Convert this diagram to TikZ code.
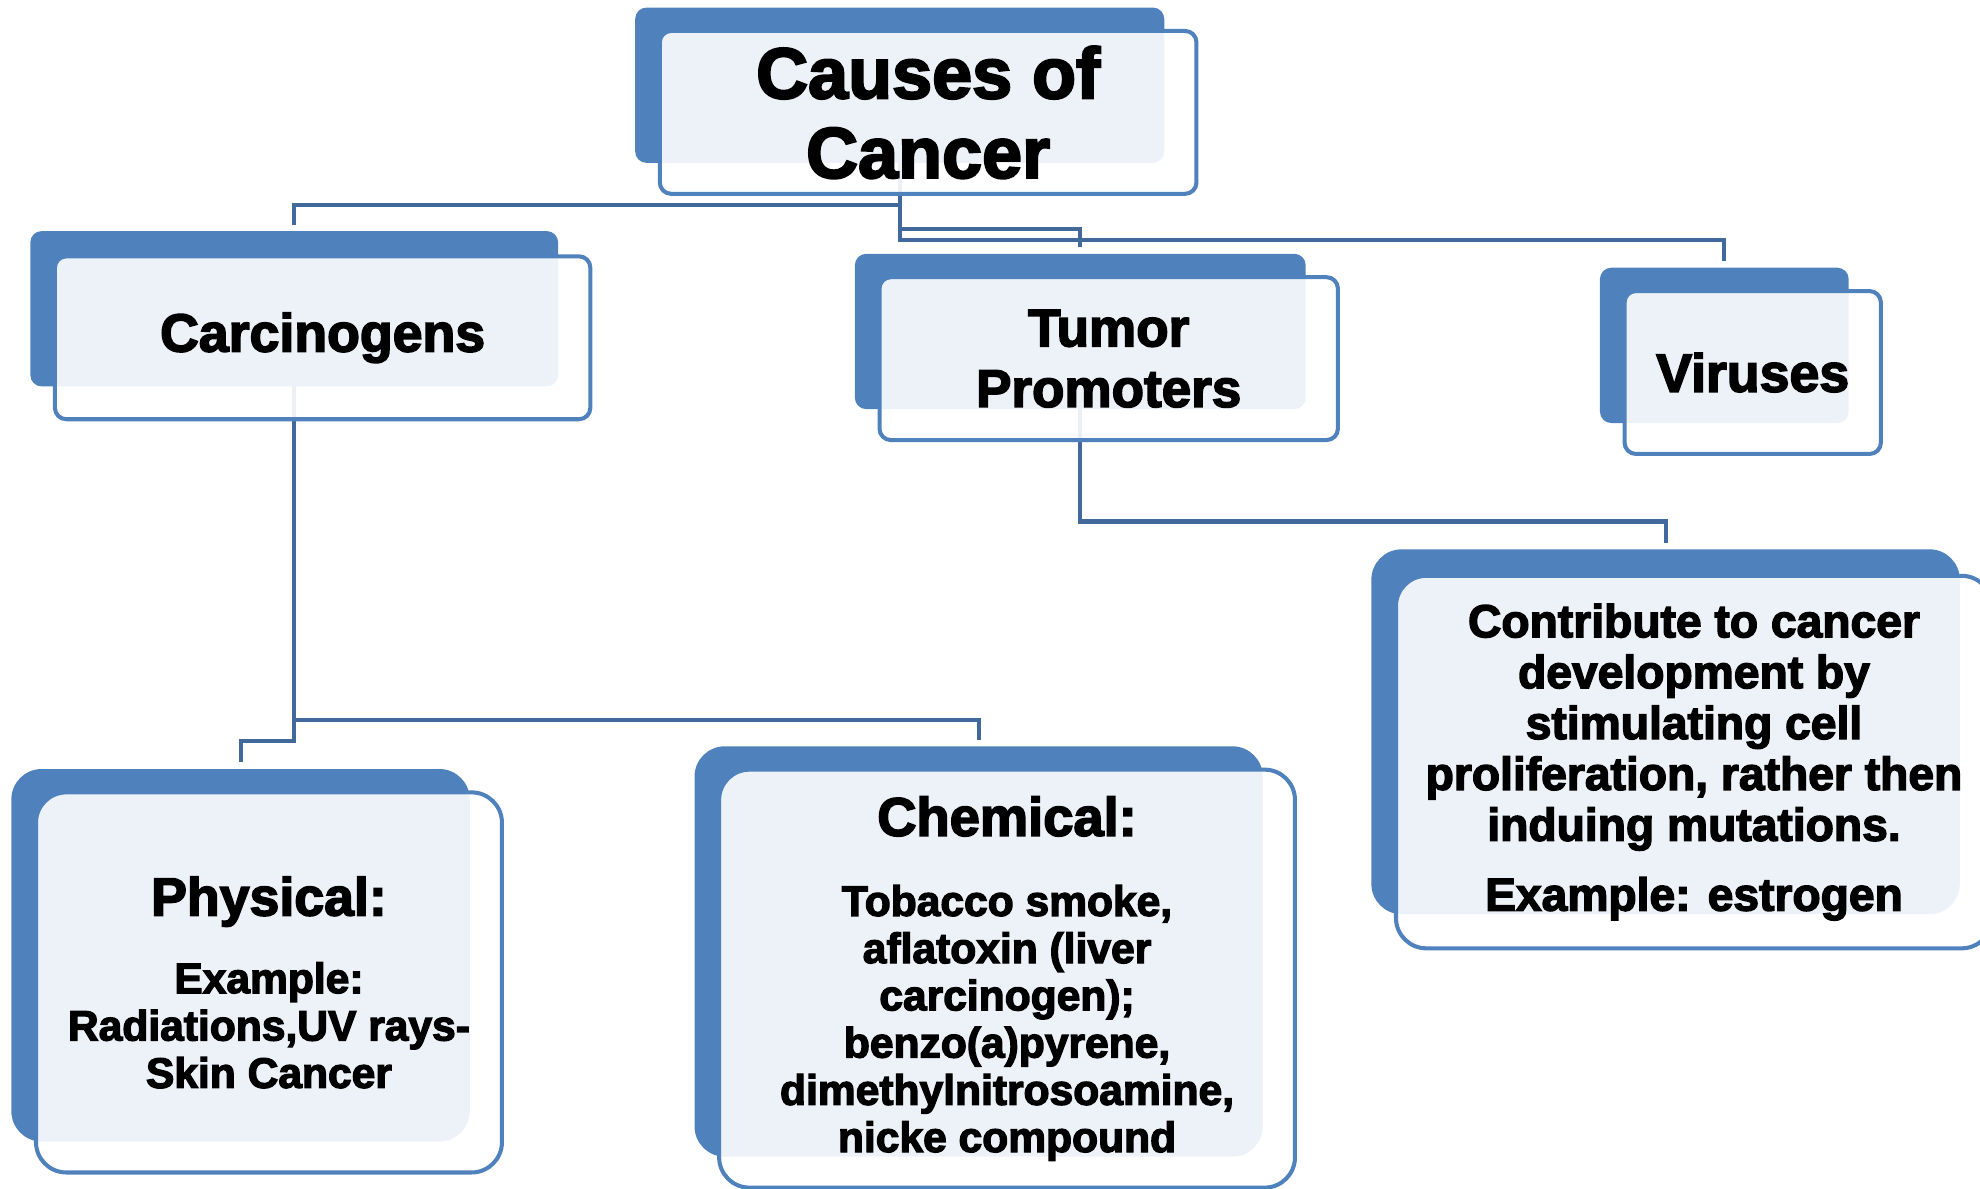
\documentclass[tikz,border=0pt]{standalone}
\usepackage{fontspec}
\setmainfont{Liberation Sans}
\newfontfamily\heavy{Liberation Sans Bold}[FakeBold=3]
\usetikzlibrary{calc,backgrounds}
\definecolor{backblue}{HTML}{4F81BD}
\definecolor{edgeblue}{HTML}{4F81BD}
\definecolor{linkblue}{HTML}{41699B}

\begin{document}
\begin{tikzpicture}[x=1pt, y=-1pt,
  backbox/.style={fill=backblue, inner sep=0pt, rounded corners=9pt},
  frontbox/.style={fill=white, fill opacity=0.9, text opacity=1, draw=edgeblue,
    line width=3.2pt, inner sep=0pt, align=center, rounded corners=9pt},
  bigcorner/.style={rounded corners=24pt},
  link/.style={draw=linkblue, line width=3.2pt, shorten >=5pt}]

  \useasboundingbox (0,0) rectangle (1568,941);
  \clip (0,0) rectangle (1568,941);

  % Title
  \node[backbox, minimum width=419, minimum height=123] (titleback) at (712.5,67.5) {};
  \node[frontbox, minimum width=425, minimum height=129, font=\heavy\fontsize{57}{63}\selectfont]
    (title) at ($(titleback)+(22.5,21.5)$) {Causes of\\Cancer};

  % Carcinogens
  \node[backbox, minimum width=418, minimum height=123] (carcback) at (233,244.5) {};
  \node[frontbox, minimum width=424, minimum height=129, font=\heavy\fontsize{42.5}{48}\selectfont]
    (carc) at ($(carcback)+(22.5,23)$) {Carcinogens};

  % Tumor Promoters
  \node[backbox, minimum width=357, minimum height=123] (tumorback) at (855.5,262.5) {};
  \node[frontbox, minimum width=363, minimum height=129, font=\heavy\fontsize{42}{48}\selectfont]
    (tumor) at ($(tumorback)+(22.5,21.5)$) {Tumor\\Promoters};

  % Viruses
  \node[backbox, minimum width=197, minimum height=123] (virusback) at (1365.5,273.5) {};
  \node[frontbox, minimum width=203, minimum height=129, font=\heavy\fontsize{42.5}{48}\selectfont]
    (virus) at ($(virusback)+(22.5,21.5)$) {Viruses};

  % Tumor promoter details
  \node[backbox, bigcorner, minimum width=466, minimum height=289] (detailback) at (1319,579.5) {};
  \node[frontbox, bigcorner, minimum width=472, minimum height=295, font=\heavy\fontsize{36.6}{40.3}\selectfont]
    (detail) at ($(detailback)+(22.5,24)$)
    {Contribute to cancer\\development by\\stimulating cell\\proliferation, rather then\\induing mutations.\\[15pt]Example: estrogen};

  % Physical carcinogens
  \node[backbox, bigcorner, minimum width=363, minimum height=295] (physback) at (190.5,756.5) {};
  \node[frontbox, bigcorner, minimum width=369, minimum height=301, font=\heavy\fontsize{33.7}{37.5}\selectfont]
    (phys) at ($(physback)+(22.5,21.5)$)
    {{\fontsize{42.5}{46}\selectfont Physical:}\\[24pt]Example:\\Radiations,UV rays-\\Skin Cancer};

  % Chemical carcinogens
  \node[backbox, bigcorner, minimum width=450, minimum height=325] (chemback) at (775,753.5) {};
  \node[frontbox, bigcorner, minimum width=456, minimum height=331, font=\heavy\fontsize{33.7}{37.4}\selectfont]
    (chem) at ($(chemback)+(22.5,21.5)$)
    {{\fontsize{43}{46}\selectfont Chemical:}\\[26pt]Tobacco smoke,\\aflatoxin (liver\\carcinogen);\\benzo(a)pyrene,\\dimethylnitrosoamine,\\nicke compound};

  % Connectors
  \begin{scope}[on background layer]
    \draw[link] (titleback.center) -- ++(0,94.5) -| (carcback.north);
    \draw[link] (titleback.center) -- ++(0,113.5) -| (tumorback.north);
    \draw[link] (titleback.center) -- ++(0,122.5) -| (virusback.north);
    \draw[link] (carcback.center) -- ++(0,325.5) -| (chemback.north);
    \draw[link] (carcback.center) -- ++(0,342.5) -| (physback.north);
    \draw[link] (tumorback.center) -- ++(0,150.5) -| (detailback.north);
  \end{scope}

\end{tikzpicture}
\end{document}
